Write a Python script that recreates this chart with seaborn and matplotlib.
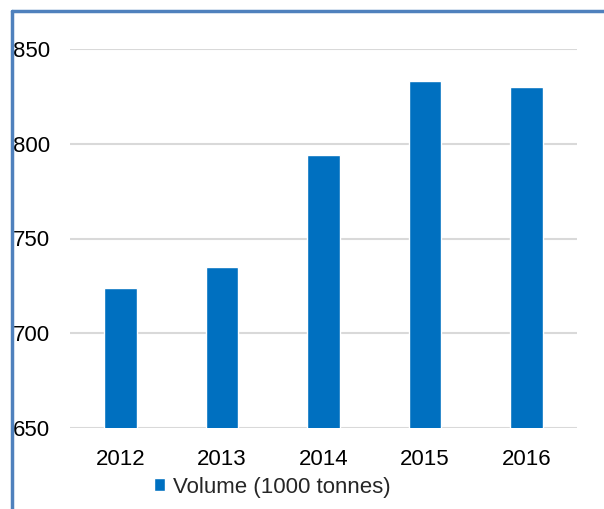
import matplotlib
matplotlib.use("Agg")
import matplotlib.pyplot as plt
from matplotlib.lines import Line2D
from matplotlib.patches import Patch
import seaborn as sns
import pandas as pd

years = ["2012", "2013", "2014", "2015", "2016"]
volume = [724, 735, 794, 833, 830]
series_label = "Volume (1000 tonnes)"
yticks = [650, 700, 750, 800, 850]

sns.set_theme(style="white")
plt.rcParams["font.family"] = ["Liberation Sans", "DejaVu Sans"]

bar_color = "#0070C0"
grid_color = "#D9D9D9"
frame_color = "#4F81BD"

df = pd.DataFrame({"year": years, "volume": volume})

fig = plt.figure(figsize=(6.04, 5.09), dpi=100)
ax = fig.add_axes([70 / 604, 1 - 428 / 509, 507 / 604, (428 - 49) / 509])

sns.barplot(data=df, x="year", y="volume", color=bar_color, width=0.32,
            saturation=1, ax=ax, zorder=3)

ax.set_ylim(650, 850)
ax.set_yticks(yticks)
ax.set_yticklabels([str(v) for v in yticks])
ax.set_xlabel("")
ax.set_ylabel("")
ax.yaxis.grid(True, color=grid_color, linewidth=1.5, zorder=0)
ax.set_axisbelow(True)
for s in ax.spines.values():
    s.set_visible(False)
ax.tick_params(axis="both", length=0, labelsize=16, colors="black")
ax.tick_params(axis="y", pad=14.5)
ax.tick_params(axis="x", pad=15)

# Frame lines along the top and left edges
fig.add_artist(Line2D([12 / 604, 12 / 604], [0, 1 - 11 / 509],
                      transform=fig.transFigure, color=frame_color, linewidth=2.5))
fig.add_artist(Line2D([12 / 604, 1], [1 - 11 / 509, 1 - 11 / 509],
                      transform=fig.transFigure, color=frame_color, linewidth=2.5))

fig.legend(handles=[Patch(facecolor=bar_color, label=series_label)],
           loc="center left", bbox_to_anchor=(154 / 604, 1 - 487 / 509),
           frameon=False, fontsize=16, handlelength=0.5, handleheight=0.5,
           handletextpad=0.35, borderpad=0, borderaxespad=0)

fig.savefig("out.png", dpi=100)
